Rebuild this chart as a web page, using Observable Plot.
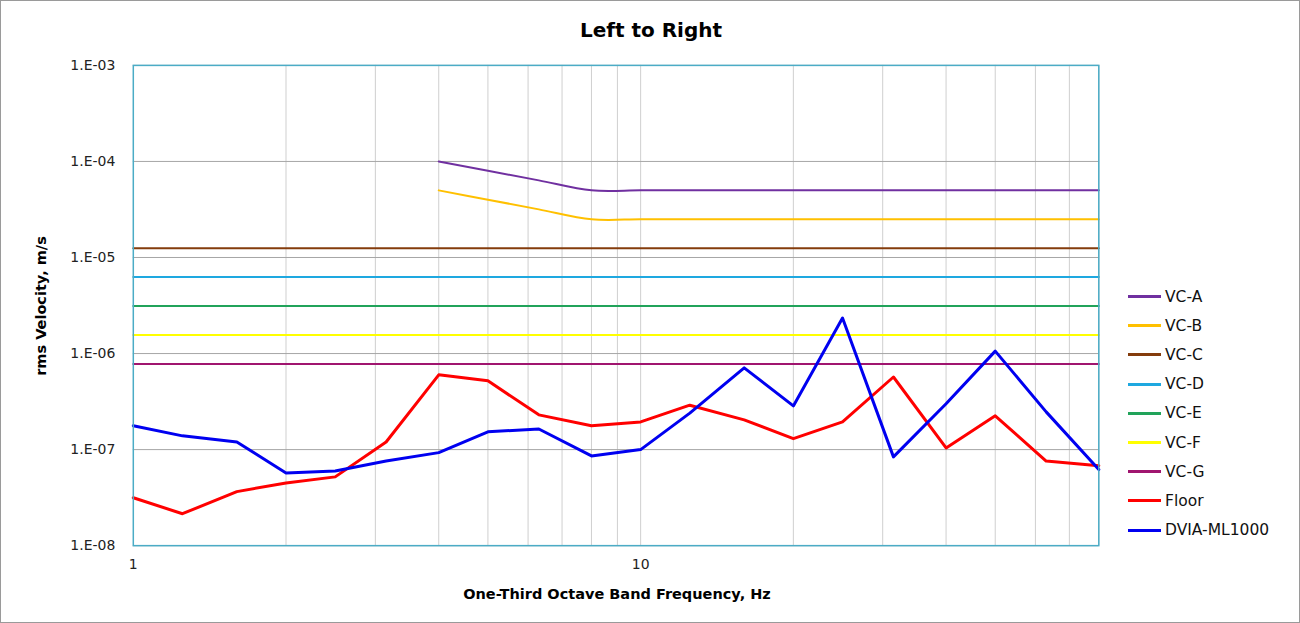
<!DOCTYPE html>
<html>
<head>
<meta charset="utf-8">
<script src="https://cdn.jsdelivr.net/npm/d3@7"></script>
<script src="https://cdn.jsdelivr.net/npm/@observablehq/plot@0.6"></script>
<style>
  html, body { margin: 0; padding: 0; background: #fff; }
  #wrap { position: relative; width: 1300px; height: 623px; box-sizing: border-box; border: 1px solid #9a9a9a; overflow: hidden; font-family: "DejaVu Sans", sans-serif; }
  #wrap svg { position: absolute; left: -1px; top: -1px; }
  .title { position: absolute; left: 0; width: 1300px; top: 17px; text-align: center; font-size: 20px; font-weight: bold; color: #000; }
  .ylab { position: absolute; left: 40px; top: 305px; transform: translate(-50%, -50%) rotate(-90deg); font-size: 14.5px; font-weight: bold; white-space: nowrap; color: #000; }
  .xlab { position: absolute; left: 616px; top: 593px; transform: translate(-50%, -50%); font-size: 14.5px; font-weight: bold; white-space: nowrap; color: #000; }
  .legend { position: absolute; left: 1127px; top: 281px; }
  .legend .item { display: flex; align-items: center; height: 29.2px; font-size: 15.5px; color: #111; }
  .legend .sw { width: 33px; height: 3px; margin-right: 4px; }
</style>
</head>
<body>
<div id="wrap">
  <div class="title">Left to Right</div>
  <div class="ylab">rms Velocity, m/s</div>
  <div class="xlab">One-Third Octave Band Frequency, Hz</div>
  <div class="legend" id="legend"></div>
</div>
<script>
// One-third octave band centre frequencies (Hz)
const freqs = [1, 1.25, 1.6, 2, 2.5, 3.15, 4, 5, 6.3, 8, 10, 12.5, 16, 20, 25, 31.5, 40, 50, 63, 80];
// VC criteria curves (m/s)
const vcAFreqs = [4, 5, 6.3, 8, 10, 12.5, 16, 20, 25, 31.5, 40, 50, 63, 80];
const vcA = [1.0e-4, 8.0e-5, 6.35e-5, 5.0e-5, 5.0e-5, 5.0e-5, 5.0e-5, 5.0e-5, 5.0e-5, 5.0e-5, 5.0e-5, 5.0e-5, 5.0e-5, 5.0e-5];
const vcB = [5.0e-5, 4.0e-5, 3.17e-5, 2.5e-5, 2.5e-5, 2.5e-5, 2.5e-5, 2.5e-5, 2.5e-5, 2.5e-5, 2.5e-5, 2.5e-5, 2.5e-5, 2.5e-5];
const vcC = 1.25e-5;
const vcD = 6.25e-6;
const vcE = 3.12e-6;
const vcF = 1.56e-6;
const vcG = 7.8e-7;
// Measured spectra (m/s)
const floorVals = [3.15e-8, 2.15e-8, 3.65e-8, 4.5e-8, 5.2e-8, 1.2e-7, 6.0e-7, 5.2e-7, 2.3e-7, 1.77e-7, 1.94e-7, 2.9e-7, 2.04e-7, 1.3e-7, 1.94e-7, 5.7e-7, 1.04e-7, 2.25e-7, 7.6e-8, 6.8e-8];
const dviaVals = [1.77e-7, 1.39e-7, 1.2e-7, 5.7e-8, 6.0e-8, 7.6e-8, 9.3e-8, 1.53e-7, 1.64e-7, 8.6e-8, 1.0e-7, 2.4e-7, 7.1e-7, 2.85e-7, 2.34e-6, 8.4e-8, 3.0e-7, 1.06e-6, 2.47e-7, 6.2e-8];

const seriesNames = ["VC-A", "VC-B", "VC-C", "VC-D", "VC-E", "VC-F", "VC-G", "Floor", "DVIA-ML1000"];
const seriesColors = ["#7030a0", "#ffc000", "#843c0c", "#1ea8e0", "#21a35a", "#ffff00", "#a0156f", "#ff0000", "#0000f0"];
const yTicks = [1e-8, 1e-7, 1e-6, 1e-5, 1e-4, 1e-3];
const xTickLabels = [1, 10];
const xGrid = [2, 3, 4, 5, 6, 7, 8, 9, 10, 20, 30, 40, 50, 60, 70, 80];

const rows = [];
vcAFreqs.forEach((f, i) => rows.push({s: "VC-A", f, v: vcA[i]}));
vcAFreqs.forEach((f, i) => rows.push({s: "VC-B", f, v: vcB[i]}));
const flat = [["VC-C", vcC], ["VC-D", vcD], ["VC-E", vcE], ["VC-F", vcF], ["VC-G", vcG]];
const flatRows = [];
flat.forEach(([s, v]) => freqs.forEach(f => flatRows.push({s, f, v})));
const measRows = [];
freqs.forEach((f, i) => measRows.push({s: "Floor", f, v: floorVals[i]}));
freqs.forEach((f, i) => measRows.push({s: "DVIA-ML1000", f, v: dviaVals[i]}));

const colorOf = s => seriesColors[seriesNames.indexOf(s)];
const fmtY = d => "1.E-" + String(-Math.round(Math.log10(d))).padStart(2, "0");

const chart = Plot.plot({
  width: 1300,
  height: 623,
  marginLeft: 133,
  marginRight: 200,
  marginTop: 65,
  marginBottom: 77,
  style: {fontFamily: "'DejaVu Sans', sans-serif", fontSize: "14px", color: "#222", background: "transparent"},
  x: {type: "log", domain: [1, 80], ticks: xTickLabels, tickFormat: d => String(d), tickSize: 0, tickPadding: 13, label: null},
  y: {type: "log", domain: [1e-8, 1e-3], ticks: yTicks, tickFormat: fmtY, tickSize: 0, tickPadding: 18, label: null},
  marks: [
    Plot.ruleX(xGrid, {stroke: "#cfcfcf", strokeWidth: 1}),
    Plot.ruleY(yTicks, {stroke: "#a6a6a6", strokeWidth: 1}),
    Plot.line(flatRows, {x: "f", y: "v", z: "s", stroke: d => colorOf(d.s), strokeWidth: 2}),
    Plot.line(rows, {x: "f", y: "v", z: "s", stroke: d => colorOf(d.s), strokeWidth: 2, curve: "catmull-rom"}),
    Plot.line(measRows, {x: "f", y: "v", z: "s", stroke: d => colorOf(d.s), strokeWidth: 3}),
    Plot.frame({stroke: "#4bacc6", strokeWidth: 1.5})
  ]
});
document.getElementById("wrap").prepend(chart);

const legend = document.getElementById("legend");
seriesNames.forEach((name, i) => {
  const item = document.createElement("div");
  item.className = "item";
  const sw = document.createElement("span");
  sw.className = "sw";
  sw.style.background = seriesColors[i];
  const t = document.createElement("span");
  t.textContent = name;
  item.appendChild(sw);
  item.appendChild(t);
  legend.appendChild(item);
});
</script>
</body>
</html>
